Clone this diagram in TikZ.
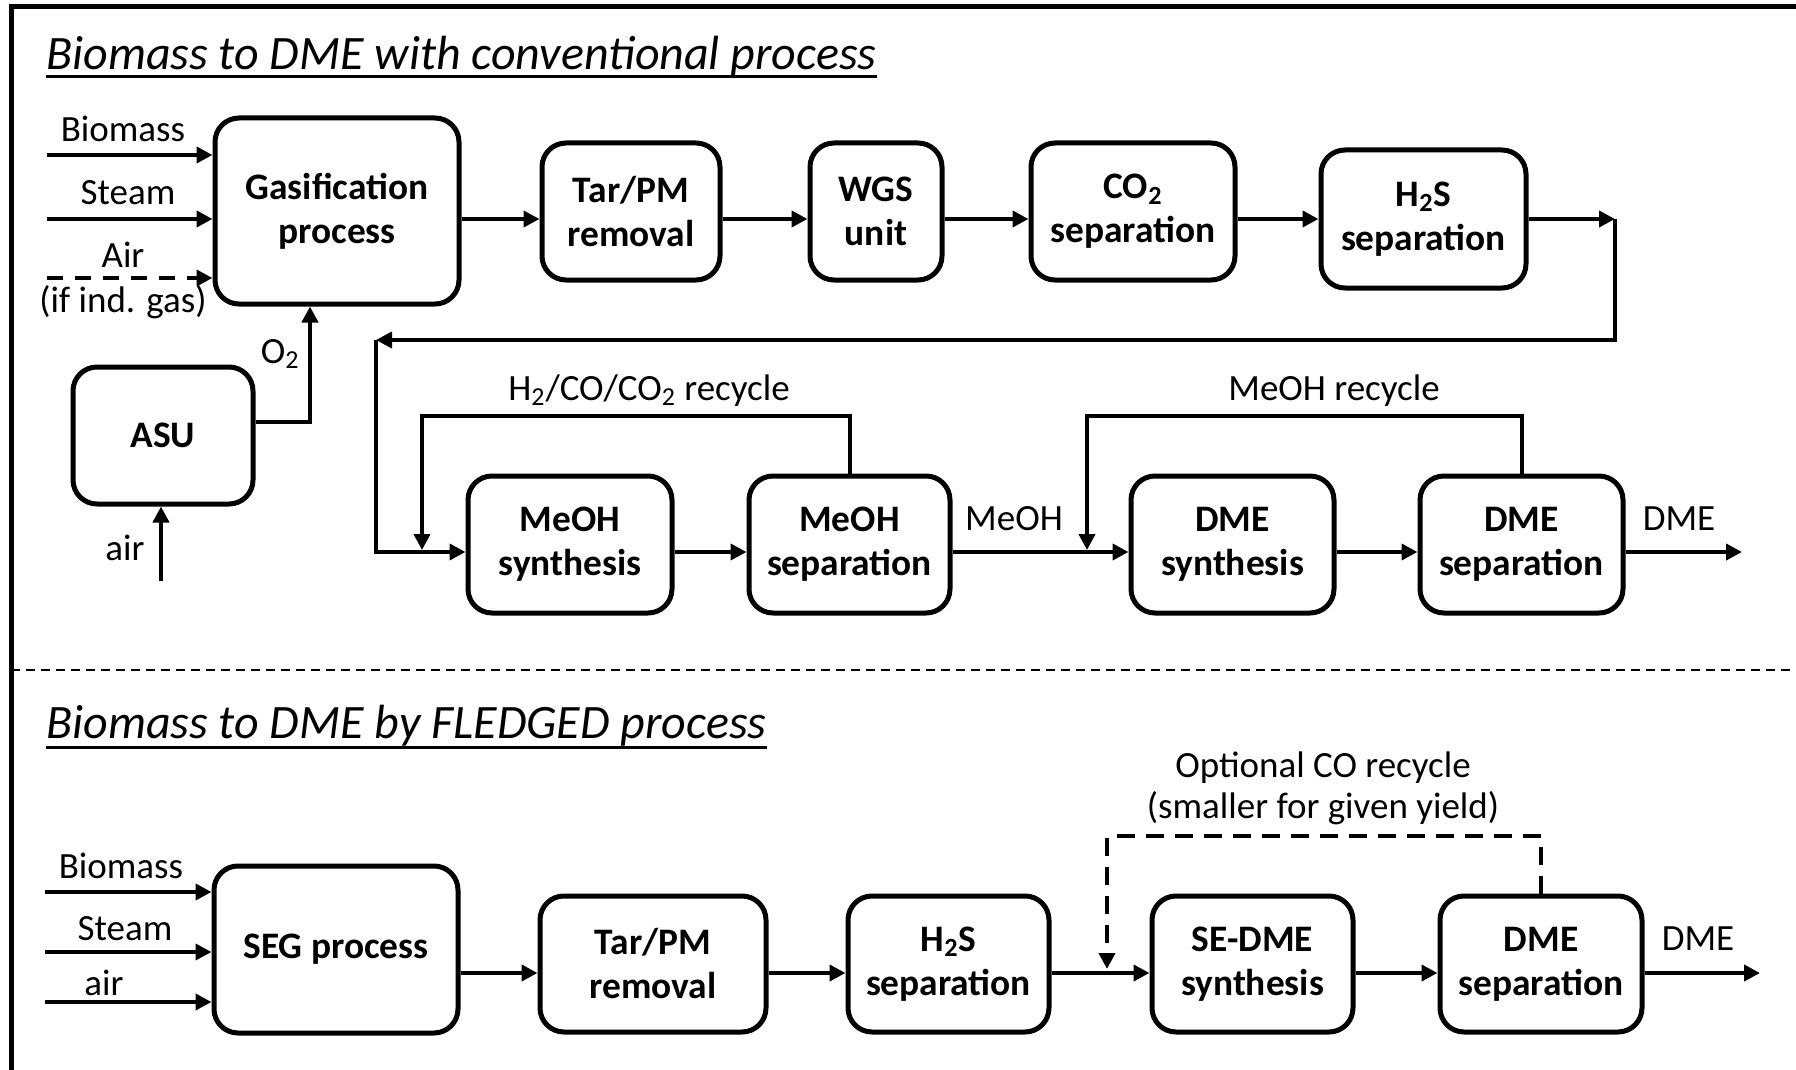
\documentclass[tikz,border=0pt]{standalone}
\usepackage{fontspec}
\setmainfont{Carlito}
\usetikzlibrary{arrows.meta}
\newcommand\boxfnt{\fontsize{18.7pt}{22pt}\selectfont\bfseries}
\newcommand\lblfnt{\fontsize{18.5pt}{22pt}\selectfont}
\newcommand\ttlfnt{\fontsize{24pt}{28pt}\selectfont\itshape}
\begin{document}
\begin{tikzpicture}[x=0.5pt,y=-0.5pt,
  bx/.style n args={2}{draw, line width=2.5pt, rounded corners=12pt,
    minimum width={#1*0.5pt}, minimum height={#2*0.5pt}, inner sep=0pt,
    align=center, font=\boxfnt},
  lbl/.style={inner sep=0pt, font=\lblfnt},
  ttl/.style={inner sep=0pt, font=\ttlfnt},
  ln/.style={line width=2pt},
  arr/.style={line width=2pt, -{Triangle[length=8pt,width=8pt]}},
  dsh/.style={dash pattern=on 8pt off 6pt}]
\useasboundingbox (0,0) rectangle (1796,1070);
% frame and separator
\draw[line width=2.5pt] (1796,7) -- (11,7) -- (11,1070);
\coordinate (s1) at (11,670);
\coordinate (s2) at (1796,670);
\draw[line width=1pt, dash pattern=on 4.5pt off 3pt] (s1) -- (s2);
% titles
\node[ttl, anchor=base west] (t1) at (46,70) {Biomass to DME with conventional process};
\draw[line width=1.5pt] ([yshift=-3.5pt]t1.base west) -- ([yshift=-3.5pt]t1.base east);
\node[ttl, anchor=base west] (t2) at (46,738) {Biomass to DME by FLEDGED process};
\draw[line width=1.5pt] ([yshift=-4.5pt]t2.base west) -- ([yshift=-4.5pt]t2.base east);
% conventional boxes
\node[bx={244}{186}] (gas) at (337,211) {Gasification\\process};
\node[bx={178}{137}] (tar1) at (631,211.5) {Tar/PM\\removal};
\node[bx={132}{137}] (wgs) at (876,211.5) {WGS\\unit};
\node[bx={204}{137}] (co2) at (1133,211.5) {CO\textsubscript{2}\\separation};
\node[bx={205}{138}] (h2s1) at (1423.5,219) {H\textsubscript{2}S\\separation};
\node[bx={180}{137}] (asu) at (163,435.5) {ASU};
\node[bx={204}{137}] (ms) at (570,544.5) {MeOH\\synthesis};
\node[bx={201}{137}] (msep) at (849.5,544.5) {MeOH\\separation};
\node[bx={203}{137}] (ds) at (1232.5,544.5) {DME\\synthesis};
\node[bx={203}{137}] (dsep) at (1521.5,544.5) {DME\\separation};
% FLEDGED boxes
\node[bx={244}{167}] (seg) at (336,949.5) {SEG process};
\node[bx={226}{136}] (tar2) at (653,964) {Tar/PM\\removal};
\node[bx={201}{136}] (h2s2) at (948.5,964) {H\textsubscript{2}S\\separation};
\node[bx={201}{136}] (sed) at (1252.5,964) {SE-DME\\synthesis};
\node[bx={202}{136}] (dsep2) at (1541,964) {DME\\separation};
% inputs top
\coordinate (i1) at (47,155);
\coordinate (i2) at (47,219);
\coordinate (i3) at (47,278);
\draw[arr] (i1) -- (i1 -| gas.west);
\draw[arr] (i2) -- (i2 -| gas.west);
\draw[arr, dsh] (i3) -- (i3 -| gas.west);
\node[lbl, anchor=base] (lbio) at (123,142) {Biomass};
\node[lbl, anchor=base] (lst) at (128,205) {Steam};
\node[lbl, anchor=base] (lair) at (123,268) {Air};
\node[lbl, anchor=base] (lind) at (123,313) {(if ind. gas)};
% ASU
\draw[arr] (asu.east |- 0,422) -| (310,0 |- gas.south);
\node[lbl, anchor=base east] (lo2) at (300,363) {O\textsubscript{2}};
\coordinate (airin) at (161,581);
\draw[arr] (airin) -- (airin |- asu.south);
\node[lbl, anchor=base] (lair2) at (125,560) {air};
% top row connectors
\draw[arr] (gas.east |- 0,219) -- (tar1.west |- 0,219);
\draw[arr] (tar1.east |- 0,219) -- (wgs.west |- 0,219);
\draw[arr] (wgs.east |- 0,219) -- (co2.west |- 0,219);
\draw[arr] (co2.east |- 0,219) -- (h2s1.west |- 0,219);
\coordinate (c1) at (1615,219);
\coordinate (c2) at (1615,340);
\coordinate (c3) at (376,340);
\draw[arr] (h2s1.east) -- (c1);
\draw[arr] (c1) -- (c2) -- (c3);
\draw[arr] (c3) |- (ms.west |- 0,552);
% second row connectors
\draw[arr] (ms.east |- 0,552) -- (msep.west |- 0,552);
\draw[arr] (msep.east |- 0,552) -- (ds.west |- 0,552);
\draw[arr] (ds.east |- 0,552) -- (dsep.west |- 0,552);
\coordinate (out1) at (1742,552);
\draw[arr] (dsep.east |- 0,552) -- (out1);
\coordinate (j1) at (422,550);
\coordinate (j2) at (1087,550);
\draw[arr] (msep.north) -- (msep.north |- 0,416) -| (j1);
\draw[arr] (dsep.north) -- (dsep.north |- 0,416) -| (j2);
\node[lbl, anchor=base] (lrec1) at (649,400) {H\textsubscript{2}/CO/CO\textsubscript{2} recycle};
\node[lbl, anchor=base] (lmeoh) at (1014,530) {MeOH};
\node[lbl, anchor=base] (lrec2) at (1334,400) {MeOH recycle};
\node[lbl, anchor=base] (ldme1) at (1679,530) {DME};
% FLEDGED inputs
\coordinate (b1) at (45,892);
\coordinate (b2) at (45,952);
\coordinate (b3) at (45,1002);
\draw[arr] (b1) -- (b1 -| seg.west);
\draw[arr] (b2) -- (b2 -| seg.west);
\draw[arr] (b3) -- (b3 -| seg.west);
\node[lbl, anchor=base] (bbio) at (121,878) {Biomass};
\node[lbl, anchor=base] (bst) at (125,940) {Steam};
\node[lbl, anchor=base] (bair) at (104,995) {air};
% FLEDGED connectors
\draw[arr] (seg.east |- 0,973) -- (tar2.west |- 0,973);
\draw[arr] (tar2.east |- 0,973) -- (h2s2.west |- 0,973);
\draw[arr] (h2s2.east |- 0,973) -- (sed.west |- 0,973);
\draw[arr] (sed.east |- 0,973) -- (dsep2.west |- 0,973);
\coordinate (out2) at (1760,973);
\draw[arr] (dsep2.east |- 0,973) -- (out2);
\coordinate (j3) at (1107,969);
\draw[arr, dash pattern=on 9pt off 5.5pt] (dsep2.north) -- (dsep2.north |- 0,836) -| (j3);
\node[lbl, anchor=base] (lopt1) at (1323,777) {Optional CO recycle};
\node[lbl, anchor=base] (lopt2) at (1323,818) {(smaller for given yield)};
\node[lbl, anchor=base] (ldme2) at (1698,950) {DME};
\end{tikzpicture}
\end{document}
